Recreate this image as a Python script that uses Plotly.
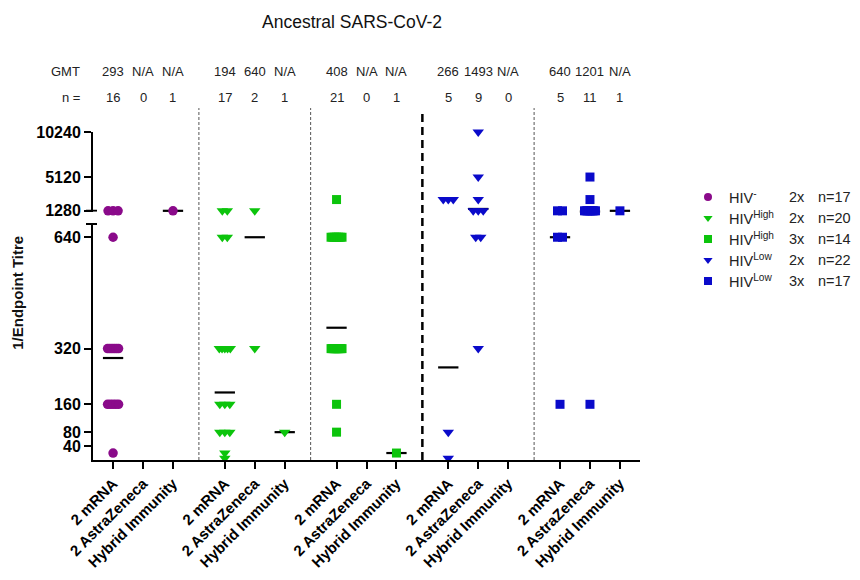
import plotly.graph_objects as go

# ---------------- data ----------------
categories = ["2 mRNA", "2 AstraZeneca", "Hybrid Immunity"]

series_groups = ["HIV<sup>-</sup>", "HIV<sup>High</sup>", "HIV<sup>High</sup>",
                 "HIV<sup>Low</sup>", "HIV<sup>Low</sup>"]
series_doses = ["2x", "2x", "3x", "2x", "3x"]
series_n = ["n=17", "n=20", "n=14", "n=22", "n=17"]
series_colors = ["#8A0A8A", "#0CC40C", "#0CC40C", "#0A0ACA", "#0A0ACA"]
series_symbols = ["circle", "triangle-down", "square", "triangle-down", "square"]

# titre values per category (2 mRNA, 2 AstraZeneca, Hybrid Immunity)
hiv_neg_2x = [
    [1280, 1280, 1280, 640, 320, 320, 320, 320, 320, 320, 160, 160, 160, 160, 160, 20],
    [],
    [1280],
]
hiv_high_2x = [
    [1280, 1280, 640, 640, 320, 320, 320, 320, 320, 160, 160, 160, 80, 80, 80, 20, 5],
    [1280, 320],
    [80],
]
hiv_high_3x = [
    [2560] + [640] * 7 + [320] * 11 + [160, 80],
    [],
    [20],
]
hiv_low_2x = [
    [2560, 2560, 2560, 80, 5],
    [10240, 5120, 2560, 1280, 1280, 1280, 640, 640, 320],
    [],
]
hiv_low_3x = [
    [1280, 1280, 640, 640, 160],
    [5120, 2560] + [1280] * 8 + [160],
    [1280],
]
series_values = [hiv_neg_2x, hiv_high_2x, hiv_high_3x, hiv_low_2x, hiv_low_3x]

# geometric mean lines as drawn (None = no line)
gmt_lines = [
    [293, None, 1280],
    [194, 640, 80],
    [380, None, 20],
    [266, 1493, None],
    [640, 1201, 1280],
]

gmt_labels = ["293", "N/A", "N/A", "194", "640", "N/A", "408", "N/A", "N/A",
              "266", "1493", "N/A", "640", "1201", "N/A"]
n_labels = ["16", "0", "1", "17", "2", "1", "21", "0", "1",
            "5", "9", "0", "5", "11", "1"]

lower_ticks = [40, 80, 160, 320, 640]
upper_ticks = [1280, 5120, 10240]
BREAK = 1280

# ---------------- layout geometry ----------------
W, H = 844, 564          # page adds an 8px body margin around the figure
ML, MT, MB = 85, 124, 112
PW = W - ML              # paper width (right margin 0)
PLOT_W = 547             # width of the main plotting area in px
XD = PLOT_W / PW         # main x-axis domain end

GROUP_STEP = 3.73
SPREAD_STEP = 0.167
SPREAD_MAX = 0.367
FONT = "Liberation Sans, Arial, sans-serif"
LOWER_TOP = 678
LOWER_DOMAIN = 0.7195
UPPER_DOMAIN = 0.757
UPPER_MIN = 1180


def px(p):
    """horizontal pixel offset from plot left edge -> paper fraction"""
    return p / PW


def cat_x(g, i):
    return g * GROUP_STEP + i


def spread(values, xc):
    counts = {}
    for v in values:
        counts[v] = counts.get(v, 0) + 1
    seen = {}
    xs = []
    for v in values:
        k = counts[v]
        j = seen.get(v, 0)
        seen[v] = j + 1
        if k == 1:
            xs.append(xc)
        else:
            w = min((k - 1) * SPREAD_STEP, SPREAD_MAX)
            xs.append(xc - w / 2 + j * w / (k - 1))
    return xs


x_min = -0.67
x_max = cat_x(4, 2) + 0.67

fig = go.Figure()

# GMT lines first (beneath markers)
for g, lines in enumerate(gmt_lines):
    for i, v in enumerate(lines):
        if v is None:
            continue
        fig.add_trace(go.Scatter(
            x=[cat_x(g, i)], y=[v], mode="markers",
            yaxis="y2" if v >= 1100 else "y",
            marker=dict(symbol="line-ew", size=14.5, color="black",
                        line=dict(color="black", width=2.2)),
            cliponaxis=False, showlegend=False, hoverinfo="skip"))

for g, (vals, col, sym) in enumerate(zip(series_values, series_colors, series_symbols)):
    lx, ly, ux, uy = [], [], [], []
    for i, cat_vals in enumerate(vals):
        xs = spread(cat_vals, cat_x(g, i))
        for x, v in zip(xs, cat_vals):
            if v >= BREAK:
                ux.append(x); uy.append(v)
            else:
                lx.append(x); ly.append(v)
    size = 10 if sym == "triangle-down" else (9.5 if sym == "circle" else 9)
    mk = dict(symbol=sym, size=size, color=col, line=dict(width=0))
    fig.add_trace(go.Scatter(x=lx, y=ly, mode="markers", xaxis="x", yaxis="y",
                             marker=mk, cliponaxis=False, showlegend=False))
    fig.add_trace(go.Scatter(x=ux, y=uy, mode="markers", xaxis="x", yaxis="y2",
                             marker=mk, cliponaxis=False, showlegend=False))

# ---------------- custom legend (on an invisible full-paper subplot) ----------------
LEG_MARK_X = px(615)
LEG_TEXT_X = px(634)
LEG_DOSE_X = px(694)
LEG_N_X = px(723)
LEG_TOP_Y = 0.8018
LEG_STEP = 0.064

annotations = []
leg_font = dict(family=FONT, size=14.5, color="#222222")
for r in range(5):
    py = LEG_TOP_Y - r * LEG_STEP
    fig.add_trace(go.Scatter(
        x=[LEG_MARK_X], y=[py], xaxis="x3", yaxis="y3", mode="markers",
        marker=dict(symbol=series_symbols[r], size=8, color=series_colors[r],
                    line=dict(width=0)),
        cliponaxis=False, showlegend=False, hoverinfo="skip"))
    for xx, txt in ((LEG_TEXT_X, series_groups[r]), (LEG_DOSE_X, series_doses[r]),
                    (LEG_N_X, series_n[r])):
        annotations.append(dict(x=xx, y=py, xref="paper", yref="paper", text=txt,
                                showarrow=False, font=leg_font, xanchor="left",
                                yanchor="middle"))

tick_x = [cat_x(g, i) for g in range(5) for i in range(3)]
tick_t = categories * 5

shapes = []
for g in range(4):
    xm = cat_x(g, 2) + (GROUP_STEP - 2) / 2
    if g == 2:
        ln = dict(color="black", width=2.5, dash="8px,5px")
        y1 = 1.067
    else:
        ln = dict(color="#555555", width=1, dash="3px,2px")
        y1 = 1.073
    shapes.append(dict(type="line", xref="x", yref="paper", x0=xm, x1=xm,
                       y0=0, y1=y1, line=ln, layer="below"))
# axis break caps
shapes.append(dict(type="line", xref="paper", yref="y2", x0=px(-7), x1=px(4),
                   y0=BREAK, y1=BREAK, line=dict(color="black", width=2)))
shapes.append(dict(type="line", xref="paper", yref="y domain", x0=px(-7), x1=px(4),
                   y0=1, y1=1, line=dict(color="black", width=2)))

row_font = dict(family=FONT, size=13, color="#222222")
GMT_Y = 1.183
N_Y = 1.104
for k, (gm, nn) in enumerate(zip(gmt_labels, n_labels)):
    annotations.append(dict(x=tick_x[k], y=GMT_Y, xref="x", yref="paper", text=gm,
                            showarrow=False, font=row_font, xanchor="center",
                            yanchor="middle"))
    annotations.append(dict(x=tick_x[k], y=N_Y, xref="x", yref="paper", text=nn,
                            showarrow=False, font=row_font, xanchor="center",
                            yanchor="middle"))
annotations.append(dict(x=px(-11), y=GMT_Y, xref="paper", yref="paper", text="GMT",
                        showarrow=False, font=row_font, xanchor="right", yanchor="middle"))
annotations.append(dict(x=px(-11), y=N_Y, xref="paper", yref="paper", text="n =",
                        showarrow=False, font=row_font, xanchor="right", yanchor="middle"))
annotations.append(dict(x=px(-75), y=0.51, xref="paper", yref="paper",
                        text="<b>1/Endpoint Titre</b>", textangle=-90, showarrow=False,
                        xanchor="center", yanchor="middle",
                        font=dict(family=FONT, size=15, color="#111111")))

axis_common = dict(showline=True, linecolor="black", linewidth=2, ticks="outside",
                   ticklen=7, tickwidth=2, tickcolor="black", showgrid=False,
                   zeroline=False,
                   tickfont=dict(family=FONT, size=16, color="black", weight="bold"))
hidden = dict(visible=False, showgrid=False, zeroline=False, fixedrange=True)

fig.update_layout(
    width=W, height=H,
    margin=dict(l=ML, r=0, t=MT, b=MB),
    plot_bgcolor="rgba(0,0,0,0)", paper_bgcolor="white",
    title=dict(text="Ancestral SARS-CoV-2", x=344 / W, xanchor="center",
               y=1 - 14 / H, yanchor="middle",
               font=dict(family=FONT, size=17.5, color="#111111")),
    xaxis=dict(domain=[0, XD], range=[x_min, x_max], tickvals=tick_x, ticktext=tick_t,
               tickangle=-45, anchor="y", automargin=False,
               **{**axis_common,
                  "tickfont": dict(family=FONT, size=15, color="black", weight="bold")}),
    yaxis=dict(domain=[0, LOWER_DOMAIN], range=[0, LOWER_TOP], tickvals=lower_ticks,
               ticktext=[str(t) for t in lower_ticks], anchor="x", automargin=False,
               **axis_common),
    yaxis2=dict(domain=[UPPER_DOMAIN, 1], range=[UPPER_MIN, 10240], tickvals=upper_ticks,
                ticktext=[str(t) for t in upper_ticks], anchor="x", automargin=False,
                **axis_common),
    xaxis3=dict(domain=[0, 1], range=[0, 1], anchor="y3", **hidden),
    yaxis3=dict(domain=[0, 1], range=[0, 1], anchor="x3", **hidden),
    shapes=shapes,
    annotations=annotations,
    showlegend=False,
)

fig.write_html("out.html")
